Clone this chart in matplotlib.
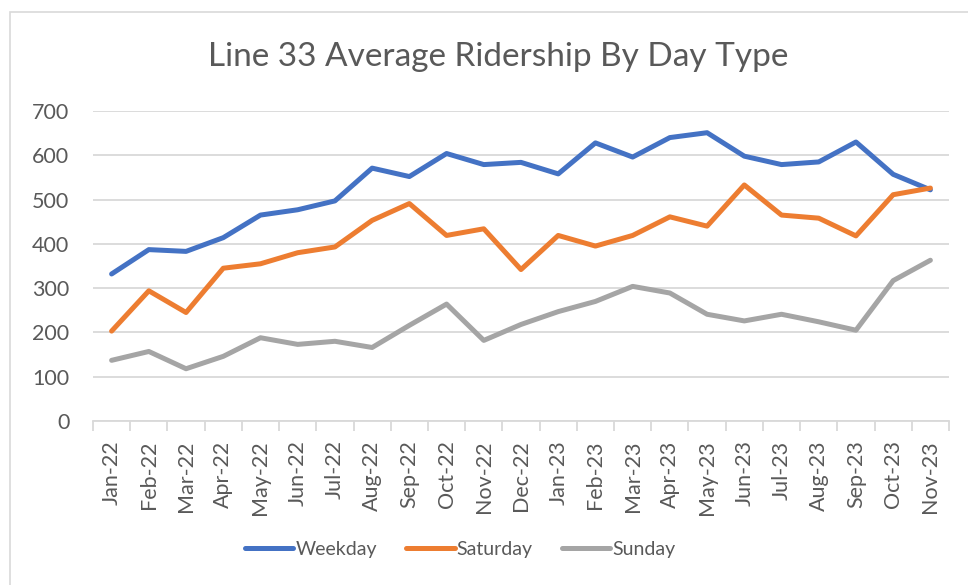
import matplotlib
matplotlib.use("Agg")
import matplotlib.pyplot as plt
from matplotlib.patches import Rectangle

months = ["Jan-22", "Feb-22", "Mar-22", "Apr-22", "May-22", "Jun-22", "Jul-22",
          "Aug-22", "Sep-22", "Oct-22", "Nov-22", "Dec-22", "Jan-23", "Feb-23",
          "Mar-23", "Apr-23", "May-23", "Jun-23", "Jul-23", "Aug-23", "Sep-23",
          "Oct-23", "Nov-23"]
weekday = [332, 387, 383, 414, 465, 477, 497, 571, 552, 604, 579, 584,
           558, 628, 596, 640, 651, 598, 579, 585, 630, 557, 522]
saturday = [203, 294, 245, 345, 355, 380, 393, 453, 491, 419, 434, 342,
            419, 395, 419, 461, 440, 533, 465, 458, 418, 511, 526]
sunday = [137, 157, 118, 146, 188, 173, 180, 166, 216, 264, 182, 218,
          247, 270, 304, 289, 241, 226, 241, 224, 205, 317, 363]

series = [("Weekday", weekday, "#4472C4"),
          ("Saturday", saturday, "#ED7D31"),
          ("Sunday", sunday, "#A5A5A5")]

plt.rcParams["font.family"] = ["Lato", "DejaVu Sans"]
text_color = "#595959"

fig = plt.figure(figsize=(9.68, 5.85), dpi=100)
fig.patch.set_facecolor("white")
# chart frame
fig.add_artist(Rectangle((10 / 968, -0.01), 1.0, 1 - 12 / 585 + 0.01,
                         transform=fig.transFigure, fill=False,
                         edgecolor="#D9D9D9", linewidth=1.2))

ax = fig.add_axes([93 / 968, 1 - 421 / 585, (949 - 93) / 968, (421 - 111) / 585])
x = list(range(len(months)))
for name, vals, col in series:
    ax.plot(x, vals, color=col, linewidth=3.6, label=name,
            solid_joinstyle="round", solid_capstyle="round")

ax.set_xlim(-0.5, len(months) - 0.5)
ax.set_ylim(0, 700)
ax.set_yticks(range(0, 701, 100))
ax.set_xticks(x)
ax.set_xticklabels(months, rotation=90)
ax.set_xticks([i - 0.5 for i in range(len(months) + 1)], minor=True)
ax.grid(axis="y", color="#D9D9D9", linewidth=1.3)
ax.set_axisbelow(True)
for side in ["top", "right", "left"]:
    ax.spines[side].set_visible(False)
ax.spines["bottom"].set_color("#D9D9D9")
ax.spines["bottom"].set_linewidth(1.3)
ax.tick_params(axis="x", which="major", length=0, pad=14, labelsize=15.5,
               labelcolor=text_color)
ax.tick_params(axis="x", which="minor", length=7, width=1.3, color="#D9D9D9")
ax.tick_params(axis="y", length=0, pad=17, labelsize=15.5, labelcolor=text_color)

fig.text(498 / 968, 1 - 57 / 585, "Line 33 Average Ridership By Day Type",
         ha="center", va="center", fontsize=24, color=text_color)

handles, labels = ax.get_legend_handles_labels()
fig.legend(handles, labels, loc="center", bbox_to_anchor=(460 / 968, 1 - 549 / 585),
           ncol=3, frameon=False, fontsize=14, handlelength=2.5,
           handletextpad=0.1, columnspacing=1.5, labelcolor=text_color)

fig.savefig("out.png", dpi=100)
